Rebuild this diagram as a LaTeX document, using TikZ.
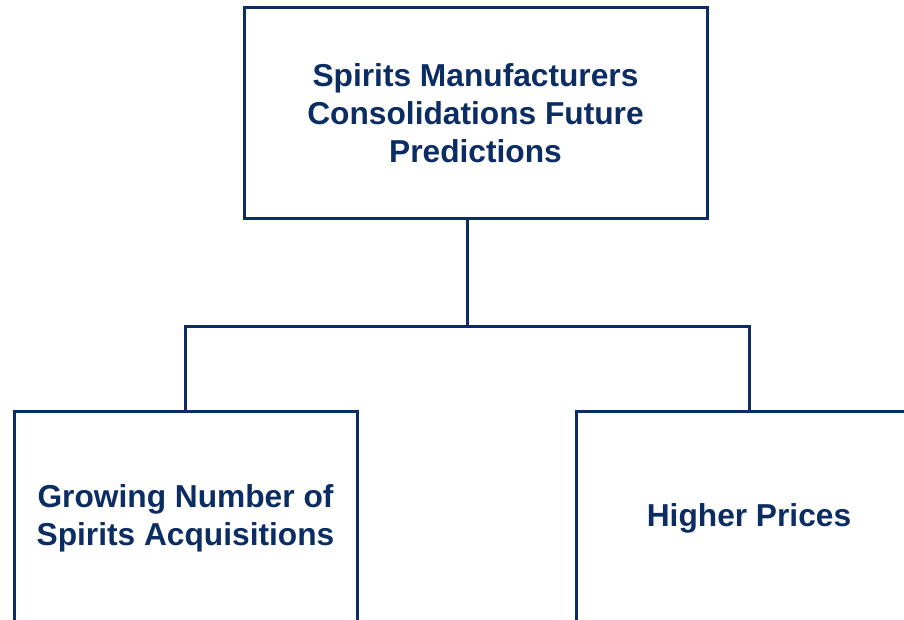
\documentclass[tikz,border=0pt]{standalone}
\usepackage{fontspec}
\setmainfont{Liberation Sans}
\usepackage{tikz}
\definecolor{navyline}{RGB}{12,45,100}
\usetikzlibrary{positioning}

\begin{document}
\begin{tikzpicture}[x=1pt, y=1pt,
				box/.style={draw=navyline, line width=3pt, fill=white, inner sep=0pt, outer sep=0pt, align=center,
					text=navyline, font=\fontsize{31.7}{38}\selectfont\bfseries},
				link/.style={draw=navyline, line width=3pt}]
				% Bildbereich
				\useasboundingbox (0,0) rectangle (904,620);
				% Kasten oben
				\node[box, minimum width=463, minimum height=211] (top) at (475.5,506.5)
					{Spirits Manufacturers\\Consolidations Future\\Predictions};
				% Kaesten unten
				\node[box, minimum width=343, minimum height=212] (acq) at (185.5,102)
					{Growing Number of\\Spirits Acquisitions};
				\node[box, minimum width=346, minimum height=212] (price) at (749,102)
					{Higher Prices};
				% Verbindungen
				\coordinate (split) at (467,293);
				\draw[link] (top.south -| split) -- (split);
				\draw[link] (acq.north) |- (split) -| (price.north);
			\end{tikzpicture}
\end{document}
